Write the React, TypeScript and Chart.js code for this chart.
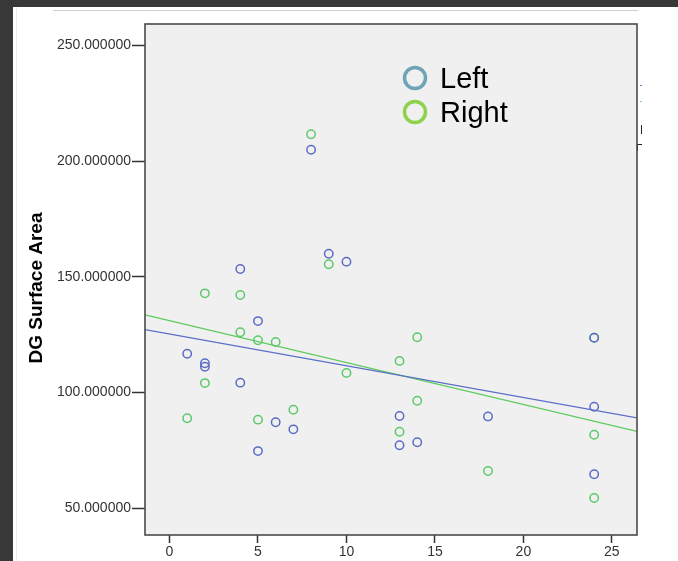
import React, { useEffect, useRef } from "react";
import { Chart, registerables } from "chart.js";

Chart.register(...registerables);

const seriesNames = ["Left", "Right"];
const leftX = [1, 2, 2, 4, 4, 5, 5, 6, 7, 8, 9, 10, 13, 13, 14, 18, 24, 24, 24];
const leftY = [116.7, 112.6, 111.1, 153.3, 104.2, 130.8, 74.6, 87.1, 84.0, 204.9, 159.9, 156.5, 89.8, 77.1, 78.4, 89.6, 123.6, 93.8, 64.6];
const rightX = [1, 2, 2, 4, 4, 5, 5, 6, 7, 8, 9, 10, 13, 13, 14, 14, 18, 24, 24, 24];
const rightY = [88.8, 142.8, 104.0, 142.1, 126.0, 122.5, 88.2, 121.8, 92.5, 211.6, 155.4, 108.4, 113.6, 83.0, 123.8, 96.4, 66.0, 123.6, 81.7, 54.3];
const fitIntercepts = [125.2, 131.0];
const fitSlopes = [-1.372, -1.811];
const xTicks = [0, 5, 10, 15, 20, 25];
const yTicks = [50, 100, 150, 200, 250];
const xRange = [-1.385, 26.42];
const yRange = [38.33, 259.25];
const yTitle = "DG Surface Area";

const markerColors = ["#5a6cc4", "#5cc96a"];
const lineColors = ["#5b6ec8", "#5ccb5c"];
const legendColors = ["#6fa3b7", "#8cd24a"];

const FONT = "Arial, 'Liberation Sans', sans-serif";

export default function App() {
  const ref = useRef<HTMLCanvasElement | null>(null);

  useEffect(() => {
    const canvas = ref.current;
    if (!canvas) return;

    const toPts = (xs: number[], ys: number[]) => xs.map((x, i) => ({ x, y: ys[i] }));
    const fitPts = (k: number) =>
      xRange.map((x) => ({ x, y: fitIntercepts[k] + fitSlopes[k] * x }));

    const decor = {
      id: "decor",
      beforeDatasetsDraw(chart: any) {
        const { ctx, chartArea: a } = chart;
        ctx.save();
        ctx.fillStyle = "#f0f0f0";
        ctx.fillRect(a.left, a.top, a.right - a.left, a.bottom - a.top);
        ctx.restore();
      },
      afterDraw(chart: any) {
        const { ctx, chartArea: a } = chart;
        ctx.save();
        ctx.strokeStyle = "#4a4a4a";
        ctx.lineWidth = 1.6;
        ctx.strokeRect(a.left, a.top, a.right - a.left, a.bottom - a.top);
        ctx.translate(37, 288);
        ctx.rotate(-Math.PI / 2);
        ctx.fillStyle = "#000";
        ctx.font = `bold 19px ${FONT}`;
        ctx.textAlign = "center";
        ctx.textBaseline = "middle";
        ctx.fillText(yTitle, 0, 0);
        ctx.restore();

        ctx.save();
        const lx = a.left + 270;
        const ly = a.top + 54;
        seriesNames.forEach((name, i) => {
          const cy = ly + i * 34;
          ctx.beginPath();
          ctx.arc(lx, cy, 10.5, 0, Math.PI * 2);
          ctx.strokeStyle = legendColors[i];
          ctx.lineWidth = 3.5;
          ctx.stroke();
          ctx.fillStyle = "#000";
          ctx.font = `29px ${FONT}`;
          ctx.textAlign = "left";
          ctx.textBaseline = "alphabetic";
          ctx.fillText(name, lx + 25, cy + 10);
        });
        ctx.restore();
      },
    };

    const chart = new Chart(canvas, {
      type: "scatter",
      data: {
        datasets: [
          {
            label: seriesNames[0],
            data: toPts(leftX, leftY),
            pointRadius: 4.2,
            pointBorderWidth: 1.5,
            pointBorderColor: markerColors[0],
            pointBackgroundColor: "rgba(0,0,0,0)",
            showLine: false,
          },
          {
            label: seriesNames[1],
            data: toPts(rightX, rightY),
            pointRadius: 4.2,
            pointBorderWidth: 1.5,
            pointBorderColor: markerColors[1],
            pointBackgroundColor: "rgba(0,0,0,0)",
            showLine: false,
          },
          {
            label: seriesNames[0] + " fit",
            data: fitPts(0),
            showLine: true,
            pointRadius: 0,
            borderColor: lineColors[0],
            borderWidth: 1.3,
          },
          {
            label: seriesNames[1] + " fit",
            data: fitPts(1),
            showLine: true,
            pointRadius: 0,
            borderColor: lineColors[1],
            borderWidth: 1.3,
          },
        ],
      },
      options: {
        responsive: false,
        animation: false,
        devicePixelRatio: 1,
        layout: { padding: { top: 24, right: 41, left: 0, bottom: 0 } },
        plugins: { legend: { display: false }, tooltip: { enabled: false } },
        scales: {
          x: {
            type: "linear",
            position: "bottom",
            min: xRange[0],
            max: xRange[1],
            afterBuildTicks: (s: any) => {
              s.ticks = xTicks.map((v) => ({ value: v }));
            },
            afterFit: (s: any) => {
              s.height = 26;
            },
            grid: {
              display: true,
              drawOnChartArea: false,
              drawTicks: true,
              tickLength: 8,
              tickColor: "#333",
              tickWidth: 1.5,
            },
            border: { display: false },
            ticks: {
              color: "#333",
              padding: 1,
              font: { family: FONT, size: 14 },
              maxRotation: 0,
              callback: (v: any) => String(v),
            },
          },
          y: {
            type: "linear",
            position: "left",
            min: yRange[0],
            max: yRange[1],
            afterBuildTicks: (s: any) => {
              s.ticks = yTicks.map((v) => ({ value: v }));
            },
            afterFit: (s: any) => {
              s.width = 145;
            },
            grid: {
              display: true,
              drawOnChartArea: false,
              drawTicks: true,
              tickLength: 13,
              tickColor: "#333",
              tickWidth: 1.5,
            },
            border: { display: false },
            ticks: {
              color: "#333",
              padding: 1,
              font: { family: FONT, size: 14 },
              callback: (v: any) => Number(v).toFixed(6),
            },
          },
        },
      },
      plugins: [decor],
    } as any);

    return () => chart.destroy();
  }, []);

  return (
    <div style={{ position: "fixed", left: 0, top: 0, width: 678, height: 561, background: "#383838", overflow: "hidden" }}>
      <div style={{ position: "absolute", left: 13, top: 7, right: 0, bottom: 0, background: "#ffffff" }} />
      <div style={{ position: "absolute", left: 16, top: 7, width: 1, bottom: 0, background: "#ececec" }} />
      <div style={{ position: "absolute", left: 53, top: 10, width: 585, height: 1, background: "#cfcfcf" }} />
      <div style={{ position: "absolute", left: 640, top: 85, width: 2, height: 1, background: "#6f7fd0" }} />
      <div style={{ position: "absolute", left: 640, top: 101, width: 2, height: 1, background: "#7fd88a" }} />
      <div style={{ position: "absolute", left: 641, top: 125, width: 1, height: 9, background: "#222" }} />
      <div style={{ position: "absolute", left: 637, top: 144, width: 5, height: 1, background: "#222" }} />
      <div style={{ position: "absolute", left: 637, top: 144, width: 1, height: 7, background: "#222" }} />
      <canvas ref={ref} width={678} height={561} style={{ position: "absolute", left: 0, top: 0, display: "block" }} />
    </div>
  );
}
